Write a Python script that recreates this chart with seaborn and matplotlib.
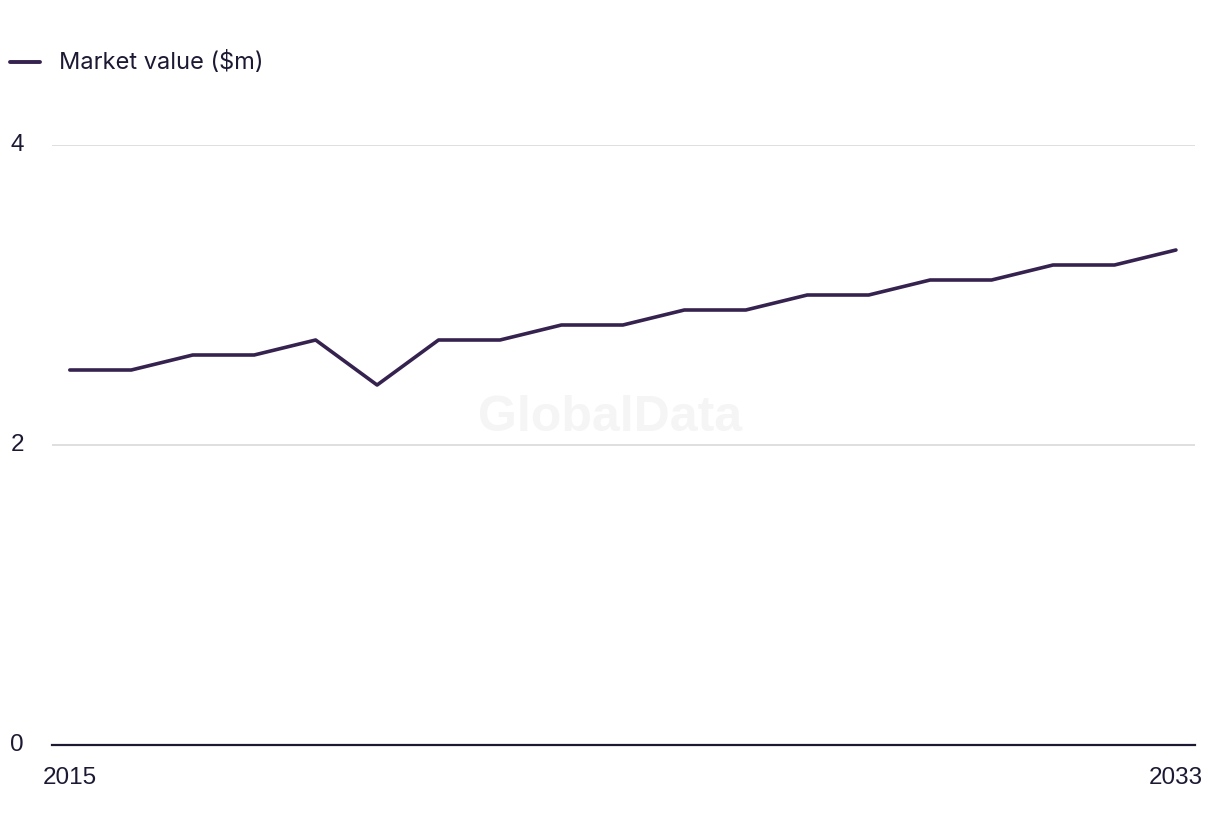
import matplotlib
matplotlib.use("Agg")
import matplotlib.pyplot as plt
import seaborn as sns
import pandas as pd

years = list(range(2015, 2034))
values = [2.5, 2.5, 2.6, 2.6, 2.7, 2.4, 2.7, 2.7, 2.8, 2.8, 2.9, 2.9, 3.0, 3.0, 3.1, 3.1, 3.2, 3.2, 3.3]
series_name = "Market value ($m)"
y_ticks = [0, 2, 4]
x_tick_labels = ["2015", "2033"]

df = pd.DataFrame({"Year": years, "Value": values, "Series": series_name})

sns.set_theme(style="white")
plt.rcParams['font.family'] = ['Liberation Sans', 'DejaVu Sans']

fig = plt.figure(figsize=(12.2, 8.36), dpi=100)
ax = fig.add_axes([52/1220, 1 - 745/836, (1195-52)/1220, (745-145)/836])

line_color = "#35224f"
sns.lineplot(data=df, x="Year", y="Value", hue="Series", palette=[line_color],
             linewidth=2.6, ax=ax, legend=False)

ax.set_ylim(0, 4)
ax.set_xlim(2015 - 0.29, 2033 + 0.31)
ax.set_yticks(y_ticks)
ax.set_xticks([2015, 2033])
ax.set_xticklabels(x_tick_labels)
ax.set_xlabel("")
ax.set_ylabel("")

for y in y_ticks[1:]:
    ax.axhline(y, color="#d9d9d9", linewidth=1.2, zorder=0)

for s in ["top", "right", "left"]:
    ax.spines[s].set_visible(False)
ax.spines["bottom"].set_color("#1c1a33")
ax.spines["bottom"].set_linewidth(1.6)

ax.tick_params(axis="both", length=0, labelsize=17.5, labelcolor="#1c1a33")
ax.tick_params(axis="x", pad=16)
for lbl in ax.get_yticklabels():
    lbl.set_horizontalalignment("left")
    lbl.set_verticalalignment("center")
ax.tick_params(axis="y", pad=30)

fig.text(610/1220, 1 - 418/836, "GlobalData", ha="center", va="center",
         fontsize=36, fontweight="bold", color="#f5f5f5", zorder=0)

# legend
fig.lines.append(plt.Line2D([10/1220, 40/1220], [1 - 62/836, 1 - 62/836], color=line_color,
                            linewidth=2.8, transform=fig.transFigure))
fig.text(59/1220, 1 - 62/836, series_name, ha="left", va="center", fontsize=17,
         color="#1c1a33", family=["Inter", "DejaVu Sans"])

fig.savefig("out.png", dpi=100)
